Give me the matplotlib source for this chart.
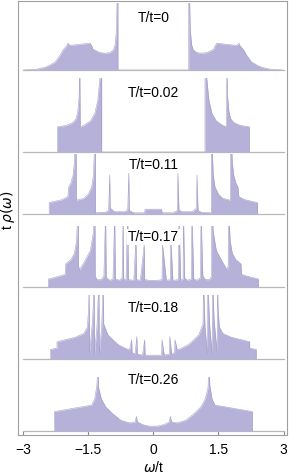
import numpy as np
import matplotlib
matplotlib.use('Agg')
import matplotlib.pyplot as plt

plt.rcParams['font.family'] = ['Liberation Sans', 'DejaVu Sans']

# Figure size in pixels
W, H = 289, 475

# Panel labels
temp_labels = ['T/t=0', 'T/t=0.02', 'T/t=0.11', 'T/t=0.17', 'T/t=0.18', 'T/t=0.26']

# Density of states, left half (omega < 0), height as a fraction of the panel
# (the curves are symmetric in omega, the right half is the mirror image)
w_t000 = [-2.98, -2.7, -2.5, -2.38, -2.26, -2.15, -2.08, -2.0, -1.97, -1.93, -1.87,
          -1.6, -1.46, -1.42, -1.39, -1.3, -1.23, -1.1, -1.0, -0.92, -0.88, -0.85,
          -0.83, -0.816, -0.816]
rho_t000 = [0.0, 0.01, 0.04, 0.075, 0.12, 0.22, 0.30, 0.36, 0.40, 0.37, 0.37,
            0.39, 0.40, 0.36, 0.31, 0.28, 0.26, 0.25, 0.26, 0.30, 0.38, 0.6,
            1.2, 1.2, 0.0]

w_t002 = [-2.21, -2.21, -2.0, -1.85, -1.78, -1.74, -1.71, -1.695, -1.685, -1.6,
          -1.45, -1.35, -1.28, -1.23, -1.21, -1.19, -1.19]
rho_t002 = [0.0, 0.34, 0.36, 0.40, 0.45, 0.55, 0.75, 1.2, 0.34, 0.36,
            0.42, 0.52, 0.70, 1.0, 1.2, 1.2, 0.0]

w_t011 = [-2.40, -2.40, -2.1, -1.97, -1.95, -1.90, -1.85, -1.82, -1.80, -1.78,
          -1.775, -1.6, -1.5, -1.42, -1.38, -1.35, -1.335, -1.335, -1.1, -1.03,
          -1.005, -0.995, -0.9, -0.65, -0.59, -0.565, -0.555, -0.45, -0.2, -0.19, 0.0]
rho_t011 = [0.0, 0.19, 0.24, 0.29, 0.45, 0.52, 0.65, 0.85, 1.2, 1.2,
            0.23, 0.26, 0.33, 0.45, 0.65, 1.2, 1.2, 0.02, 0.03, 0.06,
            0.65, 0.10, 0.04, 0.04, 0.07, 0.70, 0.06, 0.02, 0.02, 0.08, 0.08]

w_t017 = [-2.42, -2.42, -2.1, -2.03, -2.02, -1.90, -1.82, -1.77, -1.74, -1.73,
          -1.725, -1.70, -1.60, -1.45, -1.38, -1.355, -1.345, -1.34, -1.30, -1.20,
          -1.14, -1.10, -1.085, -1.00, -0.93, -0.89, -0.875, -0.78, -0.72, -0.695,
          -0.685, -0.63, -0.59, -0.575, -0.45, -0.40, -0.39, -0.30, -0.21, -0.20,
          -0.1, 0.0]
rho_t017 = [0.0, 0.13, 0.19, 0.21, 0.38, 0.45, 0.55, 0.75, 1.2, 1.2,
            0.35, 0.28, 0.40, 0.60, 0.90, 1.2, 1.2, 0.18, 0.12, 0.12,
            0.18, 1.2, 0.15, 0.11, 0.13, 1.2, 0.13, 0.11, 0.15, 1.2,
            0.13, 0.11, 1.2, 0.12, 0.11, 0.8, 0.12, 0.11, 0.7, 0.12,
            0.11, 0.11]

w_t018 = [-2.37, -2.37, -2.22, -2.22, -1.8, -1.6, -1.52, -1.49, -1.48, -1.47,
          -1.40, -1.365, -1.355, -1.30, -1.255, -1.245, -1.19, -1.155, -1.145, -1.05,
          -0.90, -0.80, -0.65, -0.55, -0.50, -0.49, -0.42, -0.38, -0.37, -0.25,
          -0.20, -0.19, -0.1, 0.0]
rho_t018 = [0.0, 0.15, 0.17, 0.27, 0.34, 0.40, 0.5, 0.8, 1.2, 0.1,
            0.6, 1.2, 0.08, 0.5, 1.2, 0.08, 0.5, 1.2, 0.55, 0.38,
            0.28, 0.22, 0.17, 0.14, 0.3, 0.10, 0.08, 0.35, 0.08, 0.06,
            0.3, 0.06, 0.06, 0.06]

w_t026 = [-2.28, -2.28, -1.42, -1.35, -1.30, -1.28, -1.26, -1.2, -1.1, -0.95,
          -0.75, -0.55, -0.42, -0.39, -0.37, -0.25, -0.1, 0.0]
rho_t026 = [0.0, 0.36, 0.48, 0.60, 0.85, 1.2, 0.8, 0.6, 0.45, 0.33,
            0.20, 0.15, 0.17, 0.27, 0.17, 0.12, 0.09, 0.09]

panels = [(w_t000, rho_t000), (w_t002, rho_t002), (w_t011, rho_t011),
          (w_t017, rho_t017), (w_t018, rho_t018), (w_t026, rho_t026)]

# layout in pixels: frame, and (top, baseline) of each panel
frame_l, frame_r, frame_t, frame_b = 17.5, 287.0, 1.5, 435.0
panel_rows = [(3, 70), (78, 152), (154, 214), (226, 287), (295, 359), (377, 431)]
label_y = [18, 93, 165, 237, 308, 380]
xlim = (-3.13, 3.08)

fill_col = '#b6b1d8'
edge_col = '#a49fc8'


def px_box(x0, y0, x1, y1):
    return [x0 / W, 1 - y1 / H, (x1 - x0) / W, (y1 - y0) / H]


fig = plt.figure(figsize=(W / 100, H / 100), dpi=100)

# outer frame with the omega axis
ax = fig.add_axes(px_box(frame_l, frame_t, frame_r, frame_b))
ax.set_xlim(*xlim)
ax.set_ylim(0, 1)
ax.set_yticks([])
ax.set_xticks([-3, -1.5, 0, 1.5, 3])
ax.set_xticklabels(['\u22123', '\u22121.5', '0', '1.5', '3'], fontsize=10)
ax.tick_params(axis='x', direction='in', length=3, color='#888888', pad=6)
for s in ax.spines.values():
    s.set_color('#a0a0a0')
    s.set_linewidth(0.8)

# axis titles
fig.text(153.5 / W, 1 - 468 / H, r'$\omega$/t', ha='center', va='center', fontsize=10)
fig.text(8 / W, 1 - 210 / H, r't $\rho(\omega)$', ha='center', va='center',
         rotation=90, fontsize=10)

for (w, rho), (top, base), lab, ly in zip(panels, panel_rows, temp_labels, label_y):
    w = np.array(w)
    rho = np.array(rho)
    ww = np.concatenate([w, -w[::-1]])
    rr = np.concatenate([rho, rho[::-1]])
    pax = fig.add_axes(px_box(frame_l, top, frame_r, base))
    pax.set_xlim(*xlim)
    pax.set_ylim(0, 1)
    pax.axis('off')
    pax.plot([-3, 3], [0, 0], color='#b8b8b8', lw=0.9, clip_on=False, zorder=1)
    pax.fill_between(ww, 0, rr, color=fill_col, lw=0, zorder=2)
    pax.plot(ww, rr, color=edge_col, lw=0.4, zorder=3)
    fig.text(153.5 / W, 1 - ly / H, lab, ha='center', va='center', fontsize=10,
             bbox=dict(facecolor='white', edgecolor='none', pad=1.0), zorder=10)

fig.savefig('out.png', dpi=100)
